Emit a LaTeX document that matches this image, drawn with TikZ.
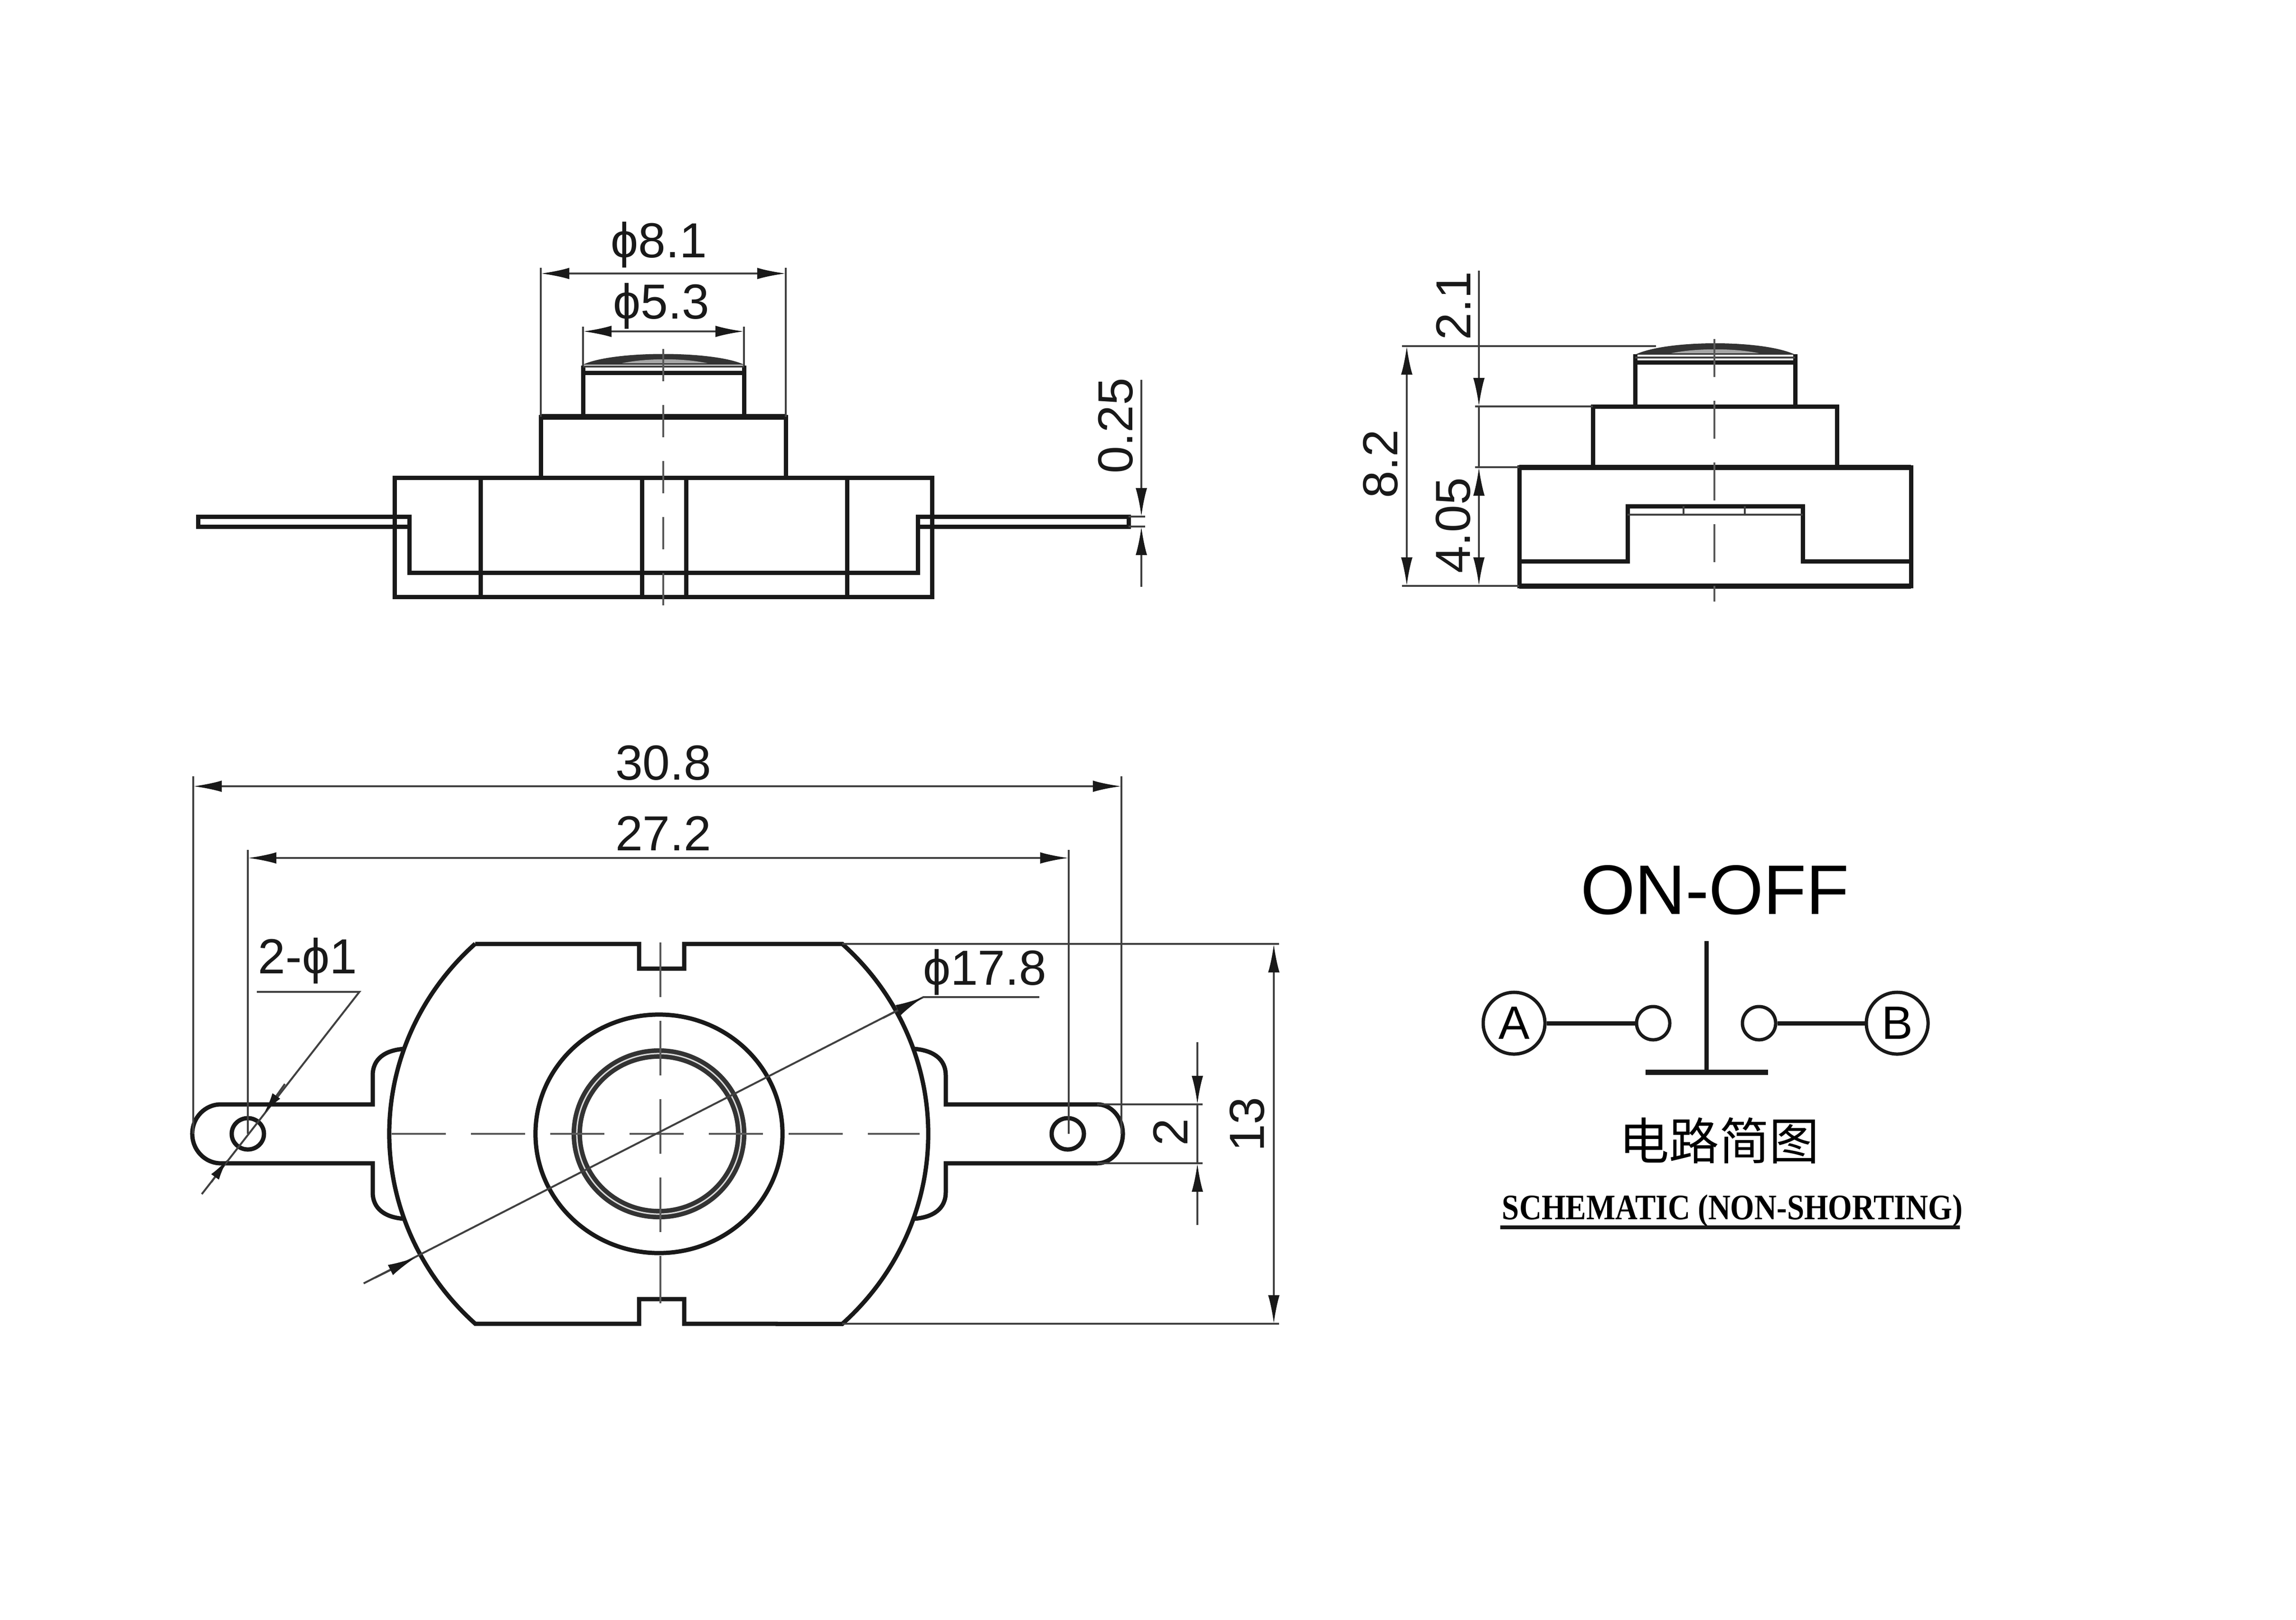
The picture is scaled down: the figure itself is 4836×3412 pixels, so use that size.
\documentclass[tikz,border=0pt]{standalone}
\usepackage{fontspec}
\setmainfont{Liberation Sans}
\newfontfamily\cjkfont{Noto Sans CJK SC}
\newfontfamily\schemfont[FakeStretch=0.86]{Liberation Serif}
\usetikzlibrary{arrows.meta,positioning}
\tikzset{
  partline/.style={line width=0.09cm,draw=black!90},
  thinline/.style={line width=0.04cm,draw=black!75},
  dimline/.style={thinline,{Latex[length=0.6cm,width=0.24cm,black!90]}-{Latex[length=0.6cm,width=0.24cm,black!90]}},
  tipline/.style={thinline,-{Latex[length=0.6cm,width=0.24cm,black!90]}},
  smalltip/.style={thinline,-{Latex[length=0.45cm,width=0.2cm,black!90]}},
  axisline/.style={line width=0.035cm,draw=black!65},
  dimtext/.style={inner sep=0pt,font=\fontsize{29.5}{32}\selectfont,text=black!90},
  termnode/.style={draw=black!90,circle,line width=0.07cm,inner sep=0pt,minimum size=1.3cm,font=\fontsize{28}{30}\selectfont},
  contact/.style={draw=black!90,circle,line width=0.07cm,inner sep=0pt,minimum size=0.7cm}
}
\begin{document}
\begin{tikzpicture}[x=0.01cm,y=-0.01cm]
\useasboundingbox (0,0) rectangle (4836,3412);

\draw[partline] (831,1006) rectangle (1963,1257);
\draw[partline] (1139,1006) -- (1139,878) -- (1655,878) -- (1655,1006);
\draw[line width=0.12cm,black!90] (1139,878) -- (1655,878);
\draw[partline] (1228,878) -- (1228,770);
\draw[partline] (1567,878) -- (1567,770);
\draw[partline] (1228,785) -- (1567,785);
\draw[thinline] (1228,772) -- (1567,772);
\fill[black!80] (1228,768) .. controls (1290,738) and (1504,738) .. (1567,768) -- cycle;
\fill[black!35] (1310,765) .. controls (1360,754) and (1440,754) .. (1490,765) -- cycle;
\foreach \xa in {1012,1352,1445,1784}
  \draw[partline] (\xa,1006) -- (\xa,1257);
\draw[partline] (417,1088) rectangle (862,1109);
\draw[partline] (862,1088) -- (862,1206) -- (1933,1206) -- (1933,1088);
\draw[partline] (1933,1088) rectangle (2377,1109);
\draw[axisline,dash pattern=on 0.68cm off 0.5cm] (1397,735) -- (1397,1291);

\coordinate (wl) at (1139,576);
\coordinate (wr) at (1655,576);
\coordinate (nl) at (1228,698);
\coordinate (nr) at (1567,698);
\draw[thinline] (1139,564) -- (1139,878);
\draw[thinline] (1655,564) -- (1655,878);
\draw[thinline] (1228,688) -- (1228,770);
\draw[thinline] (1567,688) -- (1567,770);
\draw[dimline] (wl) -- (wr);
\draw[dimline] (nl) -- (nr);
\node[dimtext] (widthtop) at (1388,516) {ϕ8.1};
\node[dimtext] (widthbtn) at (1393,645) {ϕ5.3};

\coordinate (ta) at (2404,1088);
\coordinate (tb) at (2404,1109);
\draw[thinline] (2377,1088) -- (2412,1088);
\draw[thinline] (2377,1109) -- (2412,1109);
\draw[tipline] (2404,800) -- (ta);
\draw[tipline] (2404,1236) -- (tb);
\node[dimtext,rotate=90] (thick) at (2350,897) {0.25};

\draw[partline] (3200,984) rectangle (4025,1234);
\draw[partline] (3355,984) -- (3355,856) -- (3869,856) -- (3869,984);
\draw[line width=0.11cm,black!90] (3200,984) -- (4025,984);
\draw[line width=0.11cm,black!90] (3200,1234) -- (4025,1234);
\draw[partline] (3444,856) -- (3444,746);
\draw[partline] (3781,856) -- (3781,746);
\draw[partline] (3444,763) -- (3781,763);
\draw[thinline] (3444,753) -- (3781,753);
\fill[black!80] (3444,747) .. controls (3510,715) and (3715,715) .. (3781,747) -- cycle;
\fill[black!35] (3520,744) .. controls (3570,733) and (3655,733) .. (3705,744) -- cycle;
\draw[partline] (3200,1182) -- (3428,1182) -- (3428,1066) -- (3797,1066) -- (3797,1182) -- (4025,1182);
\draw[thinline] (3428,1084) -- (3797,1084);
\draw[thinline] (3546,1066) -- (3546,1084);
\draw[thinline] (3675,1066) -- (3675,1084);
\draw[axisline,dash pattern=on 0.8cm off 0.5cm] (3611,714) -- (3611,1267);

\coordinate (ha) at (2963,729);
\coordinate (hb) at (2963,1234);
\coordinate (hc) at (3115,984);
\coordinate (hd) at (3115,1234);
\coordinate (he) at (3115,856);
\draw[thinline] (2953,729) -- (3488,729);
\draw[thinline] (3107,856) -- (3355,856);
\draw[thinline] (3107,984) -- (3200,984);
\draw[thinline] (2953,1234) -- (3200,1234);
\draw[dimline] (ha) -- (hb);
\draw[tipline] (3115,570) -- (he);
\draw[thinline] (he) -- (hc);
\draw[dimline] (hc) -- (hd);
\node[dimtext,rotate=90] (heighttop) at (3061,644) {2.1};
\node[dimtext,rotate=90] (heightall) at (2908,977) {8.2};
\node[dimtext,rotate=90] (heightbase) at (3061,1107) {4.05};

\draw[partline] (1001,1988) -- (1346,1988) -- (1346,2040) -- (1441,2040) -- (1441,1988) -- (1774,1988)
  arc[start angle=47.1,end angle=-47.1,x radius=5.67cm,y radius=5.46cm]
  -- (1441,2788) -- (1441,2736) -- (1346,2736) -- (1346,2788) -- (1001,2788)
  arc[start angle=227.1,end angle=132.9,x radius=5.67cm,y radius=5.46cm];
\draw[partline] (1388,2388) ellipse[x radius=2.6cm,y radius=2.51cm];
\draw[line width=0.22cm,black!80] (1388,2388) ellipse[x radius=1.73cm,y radius=1.69cm];
\draw[line width=0.03cm,black!15] (1388,2388) ellipse[x radius=1.73cm,y radius=1.69cm];
\draw[partline] (1925,2209) .. controls (1965,2212) and (1992,2230) .. (1992,2265) -- (1992,2326) -- (2311,2326)
  arc[start angle=90,end angle=-90,x radius=0.54cm,y radius=0.62cm]
  -- (1992,2450) -- (1992,2511) .. controls (1992,2546) and (1965,2564) .. (1925,2567);
\draw[partline] (851,2209) .. controls (811,2212) and (785,2230) .. (785,2265) -- (785,2326) -- (465,2326)
  arc[start angle=90,end angle=270,x radius=0.6cm,y radius=0.62cm]
  -- (785,2450) -- (785,2511) .. controls (785,2546) and (811,2564) .. (851,2567);
\draw[partline] (2249,2388) ellipse[x radius=0.34cm,y radius=0.33cm];
\draw[partline] (522,2388) ellipse[x radius=0.34cm,y radius=0.33cm];
\draw[axisline,dash pattern=on 1.14cm off 0.53cm] (825,2388) -- (1937,2388);
\draw[axisline,dash pattern=on 1.15cm off 0.5cm] (1391,1985) -- (1391,2745);

\coordinate (la) at (407,1656);
\coordinate (lb) at (2362,1656);
\coordinate (pa) at (522,1807);
\coordinate (pb) at (2251,1807);
\draw[thinline] (407,1635) -- (407,2388);
\draw[thinline] (2362,1635) -- (2362,2388);
\draw[thinline] (522,1790) -- (522,2388);
\draw[thinline] (2251,1790) -- (2251,2388);
\draw[dimline] (la) -- (lb);
\draw[dimline] (pa) -- (pb);
\node[dimtext] (lenall) at (1397,1607) {30.8};
\node[dimtext] (lenpitch) at (1397,1755) {27.2};

\draw[thinline] (541,2089) -- (757,2089) -- (425,2515);
\draw[smalltip] (600,2283) -- (556,2345);
\draw[smalltip] (445,2490) -- (479,2442);
\node[dimtext] (holes) at (648,2024) {2-ϕ1};

\coordinate (da) at (1945,2100);
\coordinate (db) at (876,2648);
\draw[thinline] (766,2703) -- (da) -- (2189,2100);
\draw[tipline] (1860,2144) -- (da);
\draw[tipline] (790,2691) -- (db);
\node[dimtext] (diam) at (2074,2048) {ϕ17.8};

\coordinate (va) at (2683,1988);
\coordinate (vb) at (2683,2788);
\coordinate (ua) at (2522,2326);
\coordinate (ub) at (2522,2450);
\draw[thinline] (1774,1988) -- (2694,1988);
\draw[thinline] (1774,2788) -- (2694,2788);
\draw[thinline] (2311,2326) -- (2533,2326);
\draw[thinline] (2311,2450) -- (2533,2450);
\draw[dimline] (va) -- (vb);
\draw[thinline] (ua) -- (ub);
\draw[tipline] (2522,2195) -- (ua);
\draw[tipline] (2522,2580) -- (ub);
\node[dimtext,rotate=90] (heightbody) at (2627,2368) {13};
\node[dimtext,rotate=90] (widthlug) at (2465,2385) {2};

\node[inner sep=0pt,font=\fontsize{42}{44}\selectfont] (mode) at (3612,1875) {ON-OFF};
\node[termnode] (ta1) at (3189,2155) {A};
\node[termnode] (tb1) at (3996,2155) {B};
\node[contact] (ca) at (3482,2155) {};
\node[contact] (cb) at (3705,2155) {};
\draw[partline] (ta1) -- (ca);
\draw[partline] (cb) -- (tb1);
\coordinate (pusha) at (3594,1982);
\coordinate (pushb) at (3594,2258);
\coordinate (bara) at (3466,2258);
\coordinate (barb) at (3724,2258);
\draw[partline] (pusha) -- (pushb);
\draw[line width=0.11cm,black!90] (bara) -- (barb);
\node[inner sep=0pt,font=\fontsize{30}{32}\selectfont\cjkfont] (circuit) at (3621,2402) {电路简图};
\node[inner sep=0pt,font=\fontsize{21.5}{24}\selectfont\schemfont\bfseries] (schem) at (3649,2550) {SCHEMATIC (NON-SHORTING)};
\coordinate (ula) at (3160,2585);
\coordinate (ulb) at (4128,2585);
\draw[line width=0.08cm,black!90] (ula) -- (ulb);
\end{tikzpicture}
\end{document}
